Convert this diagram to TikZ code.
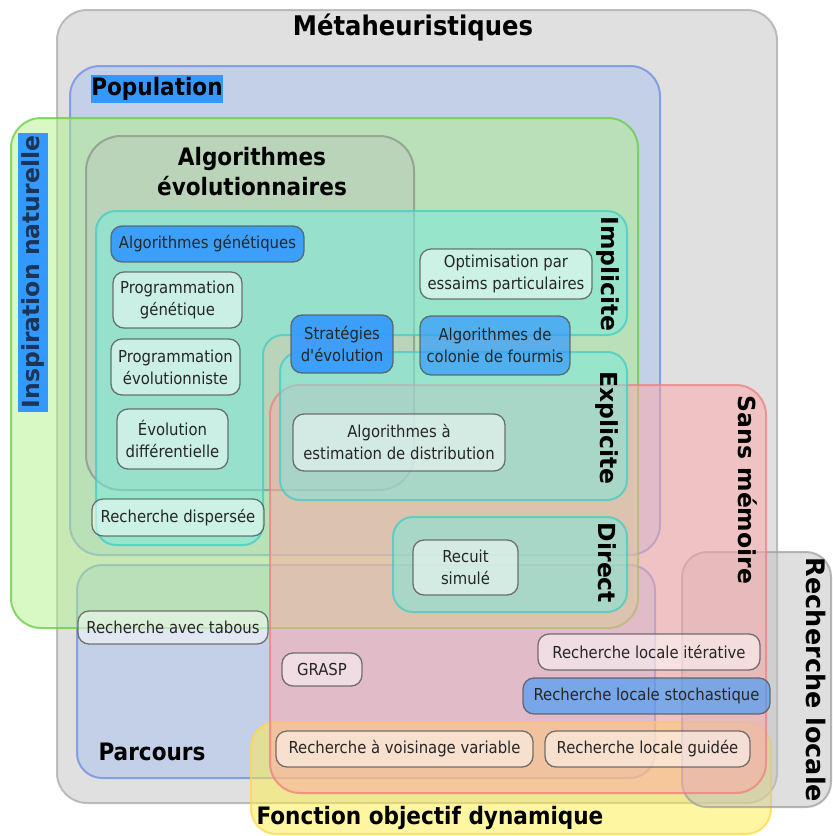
\documentclass[tikz,border=0pt]{standalone}
\usepackage{fontspec}
\setmainfont{DejaVu Sans}
\newfontfamily\condfont{DejaVu Sans Condensed}
\usetikzlibrary{positioning}
\definecolor{metafill}{HTML}{E0E0E0}
\definecolor{metaline}{HTML}{ABABAB}
\definecolor{popfill}{HTML}{AAC0F0}
\definecolor{popline}{HTML}{6A8EE0}
\definecolor{inspfill}{HTML}{B1F189}
\definecolor{inspline}{HTML}{66CC44}
\definecolor{evofill}{HTML}{B8B8B8}
\definecolor{evoline}{HTML}{8A948A}
\definecolor{tealfill}{HTML}{75ECE0}
\definecolor{tealline}{HTML}{44CCC4}
\definecolor{redfill}{HTML}{FFA8A8}
\definecolor{redline}{HTML}{EE8080}
\definecolor{yelfill}{HTML}{FFEE44}
\definecolor{yelline}{HTML}{FFD84A}
\definecolor{locfill}{HTML}{C0C0C0}
\definecolor{locline}{HTML}{A0A0A0}
\definecolor{algoblue}{HTML}{3399FF}
\definecolor{nodeline}{HTML}{555555}
\definecolor{navytext}{HTML}{1C3455}
\tikzset{
    zone/.style={rounded corners=#1, line width=2pt, fill opacity=0.5, draw opacity=0.75},
    zone/.default=28pt,
    algo/.style={draw=nodeline, line width=1.3pt, rounded corners=11pt, fill=white,
        fill opacity=0.5, draw opacity=0.8, text opacity=1, text=black!85,
        font=\condfont\fontsize{16.5}{22}\selectfont, align=center, inner sep=1pt},
    bluealgo/.style={algo, fill=algoblue, fill opacity=0.9},
    title/.style={font=\condfont\bfseries\fontsize{24}{30}\selectfont, align=center},
    vlabel/.style={font=\bfseries\fontsize{23.5}{28}\selectfont}
}
\begin{document}
\begin{tikzpicture}[x=1pt, y=-1pt]
    \useasboundingbox (0,0) rectangle (833,836);
    % Zones
    \draw[zone=30pt, draw=metaline, fill=metafill, fill opacity=1] (57,10) rectangle (777,803);
    \draw[zone=30pt, draw=popline, fill=popfill] (70,66) rectangle (660,555);
    \draw[zone=25pt, draw=popline, fill=popfill] (77,565) rectangle (655,778);
    \draw[zone=30pt, draw=inspline, fill=inspfill] (11,118) rectangle (638,628);
    \draw[zone=35pt, draw=evoline, fill=evofill, fill opacity=0.28] (86,136) rectangle (414,490);
    \draw[zone=25pt, draw=yelline, fill=yelfill] (251,722) rectangle (771,834);
    \draw[zone=25pt, draw=locline, fill=locfill] (682,552) rectangle (831,807);
    \draw[zone=30pt, draw=redline, fill=redfill] (270,385) rectangle (766,793);
    \draw[zone=20pt, draw=tealline, fill=tealfill]
        (96,211) -- (627,211) -- (627,335) -- (263,335) -- (263,545) -- (96,545) -- cycle;
    \draw[zone=20pt, draw=tealline, fill=tealfill] (280,352) rectangle (627,500);
    \draw[zone=20pt, draw=tealline, fill=tealfill] (393,517) rectangle (627,612);

    % Zone labels
    \node[title, font=\condfont\bfseries\fontsize{27}{32}\selectfont] (meta) at (413,28) {Métaheuristiques};
    \node[title, fill=algoblue, minimum width=130pt, minimum height=28pt, inner sep=0pt] (pop) at (157,89) {Population};
    \node[title] (evo) at (252,172) {Algorithmes\\évolutionnaires};
    \node[title] (parc) at (152,752) {Parcours};
    \node[title] (fonc) at (430,818) {Fonction objectif dynamique};
    \node[vlabel, rotate=90, fill=algoblue, text=navytext, minimum width=279pt, minimum height=30pt, inner sep=0pt] (insp) at (33,272) {Inspiration naturelle};
    \node[vlabel, rotate=-90] (impl) at (608,274) {Implicite};
    \node[vlabel, rotate=-90] (expl) at (607,428) {Explicite};
    \node[vlabel, rotate=-90] (dir) at (607,563) {Direct};
    \node[vlabel, rotate=-90] (sansmem) at (748,490) {Sans mémoire};
    \node[vlabel, rotate=-90, font=\bfseries\fontsize{25.5}{30}\selectfont] (rechloc) at (816,680) {Recherche locale};

    % Methods
    \node[bluealgo, minimum width=193pt, minimum height=36pt] (genet) at (207.5,244) {Algorithmes génétiques};
    \node[algo, minimum width=129pt, minimum height=56pt] (progen) at (177.5,300) {Programmation\\génétique};
    \node[algo, minimum width=129pt, minimum height=56pt] (progevo) at (175.5,367) {Programmation\\évolutionniste};
    \node[algo, minimum width=111pt, minimum height=60pt] (evodiff) at (172.5,439) {Évolution\\différentielle};
    \node[bluealgo, minimum width=102pt, minimum height=58pt] (strat) at (342,344) {Stratégies\\d'évolution};
    \node[bluealgo, fill opacity=0.7, minimum width=150pt, minimum height=59pt] (fourmis) at (495,345.5) {Algorithmes de\\colonie de fourmis};
    \node[algo, minimum width=172pt, minimum height=50pt] (essaims) at (506,274) {Optimisation par\\essaims particulaires};
    \node[algo, minimum width=212pt, minimum height=57pt] (estim) at (399,442.5) {Algorithmes à\\estimation de distribution};
    \node[algo, minimum width=172pt, minimum height=37pt] (dispers) at (178,517.5) {Recherche dispersée};
    \node[algo, minimum width=105pt, minimum height=55pt] (recuit) at (465.5,567.5) {Recuit\\simulé};
    \node[algo, minimum width=190pt, minimum height=33pt] (tabous) at (173,627.5) {Recherche avec tabous};
    \node[algo, minimum width=80pt, minimum height=33pt] (grasp) at (322,669.5) {GRASP};
    \node[algo, minimum width=222pt, minimum height=36pt] (iter) at (649,652) {Recherche locale itérative};
    \node[bluealgo, fill opacity=0.6, minimum width=247pt, minimum height=36pt] (stoch) at (646.5,696) {Recherche locale stochastique};
    \node[algo, minimum width=257pt, minimum height=36pt] (voisin) at (404.5,749) {Recherche à voisinage variable};
    \node[algo, minimum width=205pt, minimum height=36pt] (guidee) at (647.5,749) {Recherche locale guidée};
\end{tikzpicture}
\end{document}
